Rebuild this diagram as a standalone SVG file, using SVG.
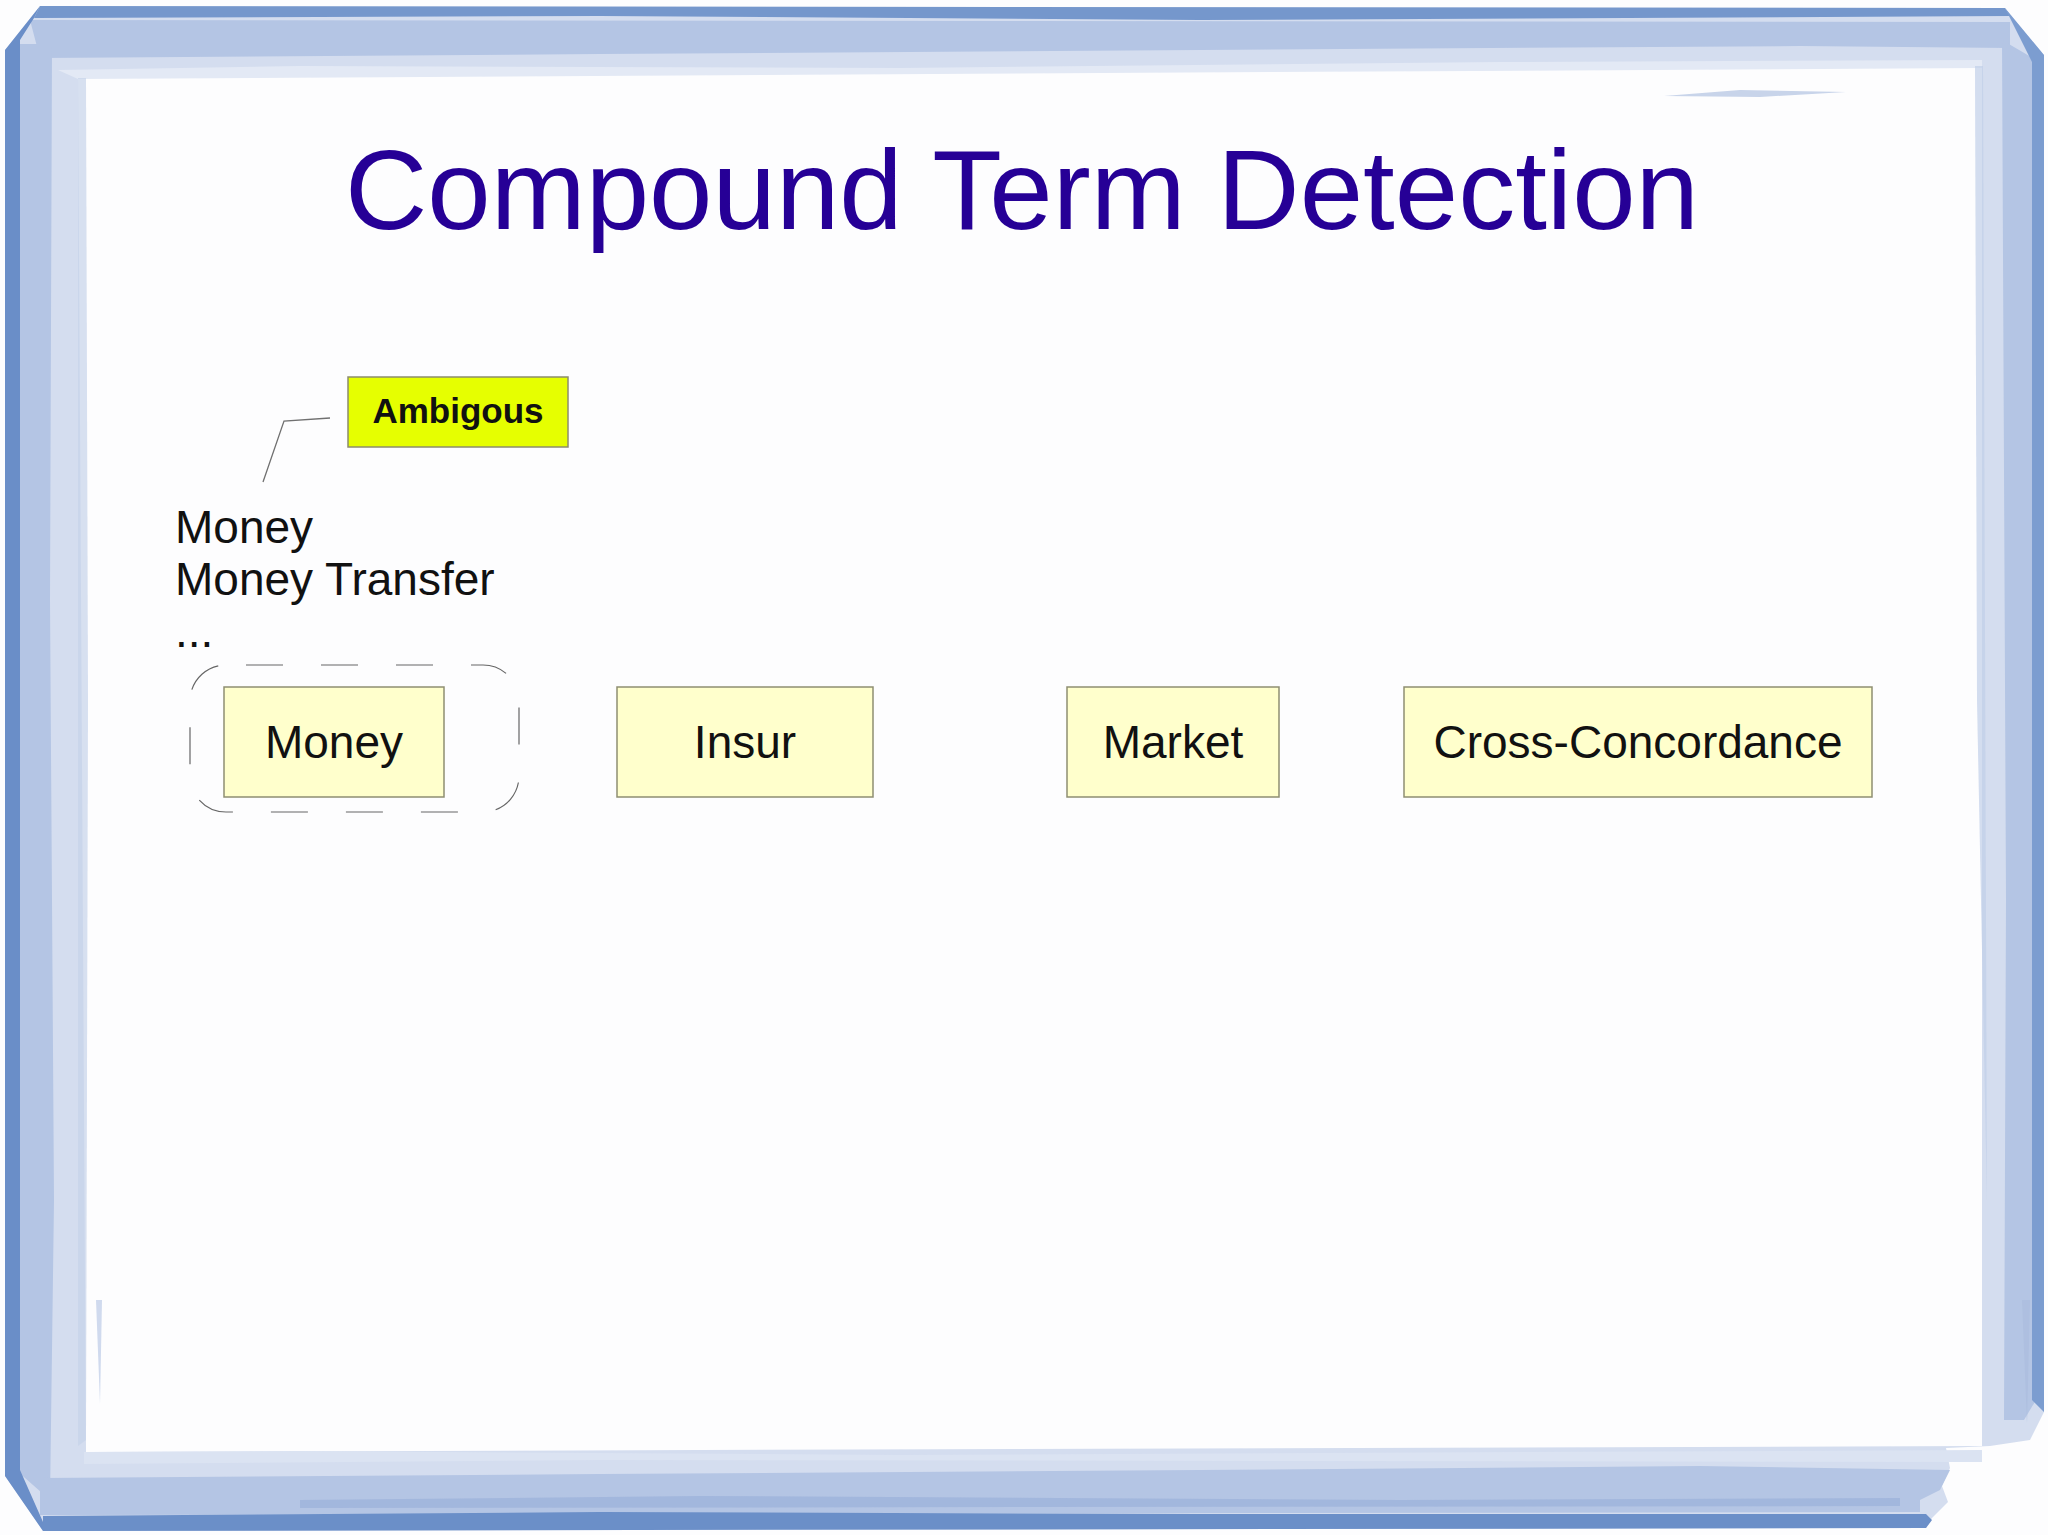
<svg xmlns="http://www.w3.org/2000/svg" width="2048" height="1535" viewBox="0 0 2048 1535">
<style>
  .lbl { font-family: "Liberation Sans", Arial, sans-serif; fill: #111; }
  .box { fill: #ffffcc; stroke: #8e8e72; stroke-width: 1.5; }
  .title { font-family: "Liberation Sans", Arial, sans-serif; fill: #260096; font-size: 114px; }
</style>
<rect width="2048" height="1535" fill="#fdfdfe"/>
<g id="frame">
  <path fill="#d4ddef" fill-rule="evenodd" d="M40,6 L2005,8 L2044,55 L2044,1412 L2030,1440 L1990,1446 L1946,1448 L1950,1468 L1942,1486 L1948,1502 L1932,1518 L1926,1528 L43,1531 L5,1476 L5,50 Z M78,77 L1982,66 L1982,1446 L86,1452 Z"/>
  <path fill="#b4c5e4" d="M30,20 L2010,22 L2010,48 L1800,46 L1200,50 L600,54 L40,58 Z"/>
  <path fill="#b4c5e4" d="M16,44 L52,44 L50,600 L54,1200 L50,1500 L16,1470 Z"/>
  <path fill="#b4c5e4" d="M2002,40 L2036,60 L2036,1400 L2024,1420 L2004,1420 L2006,900 Z"/>
  <path fill="#b4c5e4" d="M40,1478 L600,1474 L1200,1470 L1700,1466 L1950,1470 L1940,1490 L1920,1500 L1920,1512 L40,1515 Z"/>
  <path fill="#7597cc" d="M40,6 L2005,8 L2010,16 L1200,20 L600,16 L34,18 Z"/>
  <path fill="#6a8ec8" d="M5,50 L40,6 L34,18 L20,40 L20,1470 L43,1522 L43,1531 L5,1476 Z"/>
  <path fill="#7c9dd0" d="M2005,8 L2044,55 L2044,1412 L2032,1400 L2032,62 Z"/>
  <path fill="#6b8fc8" d="M43,1516 L600,1512 L1200,1514 L1926,1514 L1932,1520 L1926,1528 L43,1531 Z"/>
  <path fill="#9db3db" d="M300,1500 L700,1496 L1400,1500 L1900,1498 L1900,1506 L300,1508 Z" opacity="0.8"/>
  <path fill="#e3e9f5" d="M58,70 L300,66 L900,68 L1500,62 L1982,60 L1982,68 L78,79 Z"/>
  <path fill="#c6d3ea" d="M78,78 L86,78 L88,700 L86,1440 L78,1446 Z" opacity="0.7"/>
  <path fill="#c0cee8" d="M1975,66 L1983,66 L1987,1200 L1977,700 Z" opacity="0.7"/>
  <path fill="#c8d4ea" d="M1664,96 L1740,90 L1846,92 L1760,97 Z"/>
  <path fill="#d0daee" d="M96,1300 L102,1300 L100,1404 Z"/>
  <path fill="#aebfe0" d="M2022,1300 L2030,1300 L2027,1423 Z"/>
  <path fill="#dbe3f2" d="M84,1452 L300,1451 L900,1455 L1982,1450 L1982,1462 L600,1460 L84,1464 Z"/>
</g>
<text class="title" x="1022" y="229" text-anchor="middle">Compound Term Detection</text>
<g id="connectors">
  <polyline points="330,418 284,421 263,482" fill="none" stroke="#707070" stroke-width="1.3"/>
</g>
<g id="ambigous">
  <rect x="348" y="377" width="220" height="70" fill="#e6ff00" stroke="#8c8c6c" stroke-width="1.5"/>
  <text class="lbl" x="458" y="423" font-size="35" font-weight="bold" text-anchor="middle">Ambigous</text>
</g>
<g id="term-list">
  <text class="lbl" font-size="46"><tspan x="175" y="543">Money</tspan><tspan x="175" y="595">Money Transfer</tspan><tspan x="175" y="647">...</tspan></text>
</g>
<g id="money-group">
  <rect x="190" y="665" width="329" height="147" rx="36" ry="36" fill="none" stroke="#666" stroke-width="1.2" stroke-dasharray="37 38" stroke-dashoffset="-20"/>
</g>
<g id="money">
  <rect class="box" x="224" y="687" width="220" height="110"/>
  <text class="lbl" x="334" y="758" font-size="46" text-anchor="middle">Money</text>
</g>
<g id="insur">
  <rect class="box" x="617" y="687" width="256" height="110"/>
  <text class="lbl" x="745" y="758" font-size="46" text-anchor="middle">Insur</text>
</g>
<g id="market">
  <rect class="box" x="1067" y="687" width="212" height="110"/>
  <text class="lbl" x="1173" y="758" font-size="46" text-anchor="middle">Market</text>
</g>
<g id="cross-concordance">
  <rect class="box" x="1404" y="687" width="468" height="110"/>
  <text class="lbl" x="1638" y="758" font-size="46" text-anchor="middle">Cross-Concordance</text>
</g>
</svg>
